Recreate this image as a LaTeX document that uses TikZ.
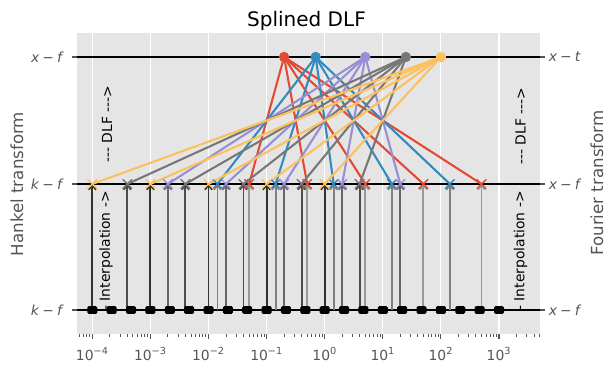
\documentclass[tikz,border=0pt]{standalone}
\usepackage{fontspec}
\setmainfont{DejaVu Sans}
\usepackage{xcolor}
\usepackage{tikz}
\usetikzlibrary{positioning,calc,shapes.misc,arrows.meta}

\definecolor{ggback}{HTML}{E5E5E5}
\definecolor{ggtext}{HTML}{555555}
\definecolor{ggred}{HTML}{E24A33}
\definecolor{ggblue}{HTML}{348ABD}
\definecolor{ggpurple}{HTML}{988ED5}
\definecolor{gggray}{HTML}{777777}
\definecolor{ggyellow}{HTML}{FBC15E}

\newcommand{\logx}[1]{92.3+58.1*((#1)+4)}
\newcommand{\ytick}[2]{\textit{#1}\hspace{0.22em}−\hspace{0.22em}\textit{#2}}

\tikzset{
  ticklabel/.style={text=ggtext, inner sep=0pt, font=\fontsize{10}{12}\selectfont},
  axislabel/.style={text=ggtext, rotate=90, font=\fontsize{12}{14}\selectfont},
  note/.style={rotate=90, inner sep=0pt, font=\fontsize{10}{12}\selectfont},
  topdot/.style={circle, fill=#1, minimum size=7.5pt, inner sep=0pt},
  cross/.style={cross out, draw=#1, line width=1pt, minimum size=5.8pt, inner sep=0pt},
  sample/.style={rectangle, fill=black, draw=black, line width=0.8pt, rounded corners=0.8pt,
    minimum width=6.4pt, minimum height=4.8pt, inner sep=0pt},
  interp/.style={line width=1.4pt, -{Straight Barb[length=3pt,width=5.5pt]}},
}

\begin{document}
\begin{tikzpicture}[x=0.72pt,y=-0.72pt]
    \useasboundingbox (0,0) rectangle (614,373);

    % Axes, grid and ticks
    \fill[ggback] (76.5,33) rectangle (540,334);
    \foreach \d/\e in {-4/−4,-3/−3,-2/−2,-1/−1,0/0,1/1,2/2,3/3} {
        \draw[white, line width=0.8pt] ({\logx{\d}},33) -- ({\logx{\d}},334);
        \draw[ggtext, line width=0.8pt] ({\logx{\d}},334) -- ({\logx{\d}},339);
        \node[ticklabel, anchor=base] (xt\d) at ({\logx{\d}},360) {10\textsuperscript{\e}};
    }
    \begin{scope}
        \clip (76,330) rectangle (540.5,340);
        \foreach \d in {-5,...,3}
            \foreach \k in {2,...,9}
                \draw[ggtext, line width=0.6pt] ({\logx{\d+log10(\k)}},334) -- ++(0,2.8);
    \end{scope}
    \foreach \y/\l/\r [count=\i] in {57/{\ytick{x}{f}}/{\ytick{x}{t}},
                                     184/{\ytick{k}{f}}/{\ytick{x}{f}},
                                     310/{\ytick{k}{f}}/{\ytick{x}{f}}} {
        \draw[ggtext, line width=0.8pt] (71.6,\y) -- (76.5,\y);
        \draw[ggtext, line width=0.8pt] (540,\y) -- (544.9,\y);
        \node[ticklabel, anchor=east] (yl\i) at (64,\y) {\l};
        \node[ticklabel, anchor=west] (yr\i) at (548.5,\y) {\r};
        \draw[black, line width=0.8pt] (76.5,\y) -- (540,\y);
    }

    % Annotations
    \node[note] (dlfL) at (107,124) {{-}{-}{-} DLF {-}{-}{-}>};
    \node[note] (dlfR) at (520.5,126) {{-}{-}{-} DLF {-}{-}{-}>};
    \node[note] (intL) at (106,251) {- Interpolation ->};
    \node[note] (intR) at (520.5,251) {- Interpolation ->};

    % Points: x = base / r
    \foreach \lr [count=\i] in {-0.699,-0.155,0.699,1.398,2} {
        \coordinate (r\i) at ({\logx{\lr}},57);
        \foreach \b [count=\j] in {-2,...,2} {
            \coordinate (k\i\j) at ({\logx{\b-(\lr)}},184);
            \coordinate (s\i\j) at ({\logx{\b-(\lr)}},310);
        }
    }
    \foreach \c [count=\i] in {ggred,ggblue,ggpurple,gggray,ggyellow}
        \foreach \j in {1,...,5}
            \draw[\c, line width=1.5pt] (r\i) -- (k\i\j);
    \foreach \g [count=\i] in {40,50,60,70,80}
        \foreach \j in {1,...,5}
            \draw[interp, black!\g] (s\i\j) -- (k\i\j);
    \foreach \c [count=\i] in {ggred,ggblue,ggpurple,gggray,ggyellow} {
        \foreach \j in {1,...,5}
            \node[cross=\c] (kx\i\j) at (k\i\j) {};
        \node[topdot=\c] (rx\i) at (r\i) {};
    }
    \foreach \n in {0,...,21}
        \node[sample] (q\n) at ({\logx{\n/3-4}},310) {};

    % Labels
    \node[anchor=base, font=\fontsize{14.4}{17}\selectfont] (title) at (306.5,26) {Splined DLF};
    \node[axislabel] (hank) at (17,184) {Hankel transform};
    \node[axislabel] (four) at (597,183) {Fourier transform};
\end{tikzpicture}
\end{document}
